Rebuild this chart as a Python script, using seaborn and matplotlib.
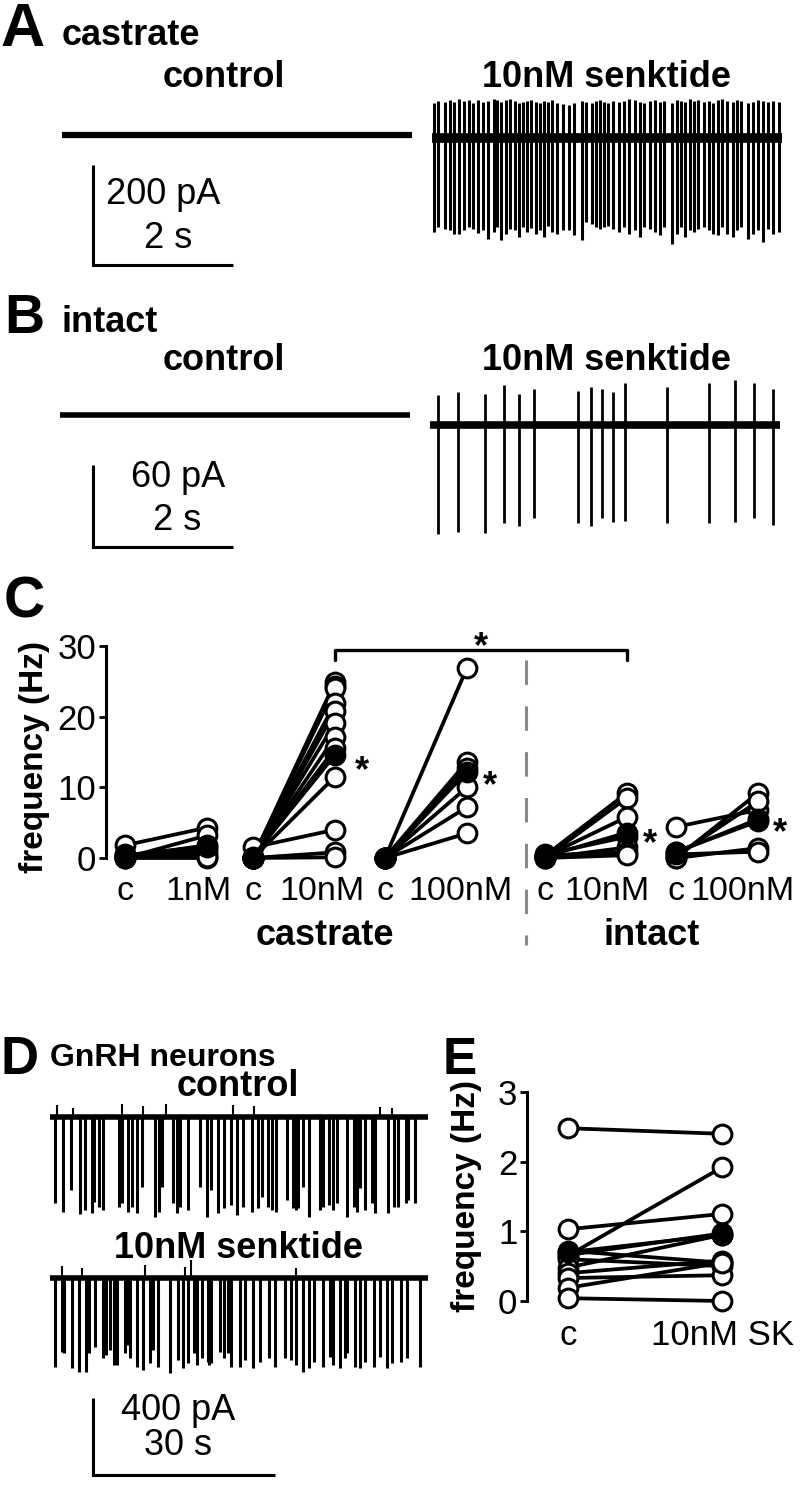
import numpy as np
import pandas as pd
import seaborn as sns
import matplotlib.pyplot as plt

W, H = 800, 1487

# ---------------- panel A: castrate, 5 s sweeps (time s, current pA)
a_dur = 5.0
a_spk_t = [0.03, 0.09, 0.19, 0.26, 0.32, 0.39, 0.46, 0.53, 0.59, 0.66,
           0.73, 0.80, 0.88, 0.93, 0.99, 1.06, 1.11, 1.18, 1.24, 1.30,
           1.36, 1.42, 1.49, 1.54, 1.60, 1.66, 1.72, 1.78, 1.87, 1.95,
           2.03, 2.14, 2.20, 2.28, 2.34, 2.40, 2.46, 2.52, 2.58, 2.67,
           2.74, 2.82, 2.90, 2.97, 3.03, 3.11, 3.19, 3.25, 3.32, 3.43,
           3.50, 3.55, 3.61, 3.69, 3.74, 3.80, 3.88, 3.95, 4.02, 4.08,
           4.14, 4.21, 4.30, 4.35, 4.42, 4.51, 4.58, 4.65, 4.73, 4.80,
           4.87, 4.95]
a_spk_down = [187, 177, 181, 184, 191, 192, 183, 177, 181, 189,
              184, 201, 187, 177, 203, 191, 181, 183, 197, 177,
              187, 179, 192, 183, 197, 176, 187, 191, 184, 184,
              194, 204, 167, 171, 177, 181, 177, 176, 181, 187,
              177, 191, 184, 197, 177, 181, 187, 194, 177, 211,
              191, 177, 197, 184, 187, 181, 177, 184, 191, 194,
              177, 191, 197, 184, 177, 201, 191, 184, 207, 181,
              191, 187]
a_spk_up = [70, 74, 72, 76, 72, 78, 74, 76, 70, 76,
            72, 74, 78, 76, 72, 76, 78, 74, 70, 72,
            74, 76, 72, 70, 74, 72, 76, 70, 68, 66,
            70, 74, 72, 70, 74, 76, 72, 70, 74, 72,
            74, 78, 76, 72, 70, 74, 76, 72, 74, 70,
            76, 74, 72, 78, 74, 76, 72, 74, 70, 76,
            78, 74, 72, 76, 74, 70, 72, 76, 74, 72,
            74, 72]

# ---------------- panel B: intact
b_dur = 5.0
b_spk_t = [0.12, 0.40, 0.79, 1.05, 1.27, 1.49, 2.11, 2.30, 2.46, 2.62,
           2.79, 3.39, 3.99, 4.35, 4.63, 4.90]
b_spk_down = [80, 78, 79, 72, 74, 68, 72, 74, 68, 71, 70, 72, 72, 71, 68, 73]
b_spk_up = [22, 24, 23, 29, 23, 26, 25, 28, 26, 24, 31, 28, 31, 33, 31, 26]

# ---------------- panel D: GnRH neurons, ~62 s sweeps
d_dur = 62.3
d_ctl_t = [0.8, 2.1, 3.4, 4.9, 5.8, 6.9, 7.3, 8.1, 8.7, 11.3,
           11.8, 12.9, 13.5, 14.4, 15.1, 17.3, 18.0, 18.4, 20.2, 20.9,
           21.4, 22.8, 24.7, 25.8, 26.5, 27.7, 28.7, 29.9, 30.8, 31.8,
           33.2, 34.2, 35.0, 35.9, 36.6, 37.3, 39.0, 40.1, 40.5, 40.9,
           41.6, 42.6, 44.4, 44.9, 45.9, 46.7, 47.2, 48.9, 50.0, 50.5,
           51.1, 51.9, 53.0, 53.5, 55.7, 56.7, 57.4, 58.6, 59.0, 60.1]
d_ctl_amp = [449, 492, 380, 504, 484, 498, 440, 466, 484, 466,
             449, 492, 466, 501, 362, 518, 492, 362, 449, 501,
             466, 484, 362, 518, 380, 501, 475, 458, 510, 466,
             492, 475, 414, 466, 484, 492, 432, 475, 484, 475,
             362, 518, 484, 466, 458, 484, 449, 518, 466, 492,
             371, 484, 449, 501, 501, 466, 466, 449, 432, 449]
d_ctl_blip_t = [1.1, 3.8, 11.8, 15.4, 19.1, 30.1, 33.6, 54.4, 56.3]
d_ctl_blip = [60, 45, 70, 55, 65, 60, 55, 50, 45]
d_sk_t = [0.8, 1.9, 2.3, 3.6, 4.8, 6.0, 6.5, 7.4, 8.7, 9.3,
          9.9, 10.5, 11.1, 12.4, 12.7, 13.2, 14.3, 15.4, 16.5, 16.9,
          17.8, 19.7, 21.1, 21.9, 22.8, 23.7, 24.2, 25.0, 26.0, 26.2,
          26.5, 28.0, 28.7, 29.4, 29.9, 31.3, 32.1, 33.4, 34.6, 36.1,
          37.1, 38.7, 39.7, 40.6, 41.7, 42.6, 43.5, 45.0, 46.1, 46.7,
          47.8, 48.6, 48.9, 50.2, 51.1, 51.9, 53.3, 54.4, 55.5, 56.3,
          57.8, 58.8, 61.0]
d_sk_amp = [461, 383, 392, 470, 487, 487, 392, 357, 418, 400,
            374, 452, 452, 392, 348, 418, 461, 478, 444, 374,
            461, 496, 426, 470, 444, 392, 452, 418, 435, 452,
            444, 383, 418, 392, 461, 461, 426, 470, 435, 418,
            461, 418, 426, 452, 487, 470, 435, 461, 409, 452,
            470, 418, 392, 461, 470, 435, 461, 409, 470, 444,
            435, 418, 461]
d_sk_blip_t = [1.9, 5.2, 15.6, 22.2, 23.3, 40.6]
d_sk_blip = [60, 50, 70, 55, 95, 50]

# ---------------- panel C: firing frequency (Hz), paired cells
c_ctrl = [[1.8, 0.0, 0.2, 0.0, 0.5, 0.0, 0.3],
          [0.0, 0.0, 0.0, 0.0, 0.0, 0.0, 0.0, 0.0, 0.0, 1.5, 0.0, 0.0],
          [0.0, 0.0, 0.0, 0.0, 0.0, 0.0],
          [0.3, 0.0, 0.2, 0.5, 0.0, 0.4, 0.0],
          [4.4, 0.0, 0.3, 0.8, 0.0, 0.5]]
c_drug = [[4.3, 3.2, 1.8, 1.2, 0.6, 0.0, 0.2],
          [24.9, 24.4, 24.0, 21.9, 20.8, 19.1, 17.1, 15.5, 11.5, 4.0, 0.8, 0.1],
          [26.9, 13.6, 12.8, 10.0, 7.2, 3.5],
          [9.2, 8.5, 5.8, 3.0, 1.5, 0.8, 0.4],
          [6.8, 9.2, 8.0, 5.5, 1.4, 0.9]]
c_mean_ctrl = [0.4, 0.2, 0.0, 0.2, 0.9]
c_mean_drug = [1.6, 14.6, 12.2, 3.6, 5.2]
c_ctrl_labels = ['c', 'c', 'c', 'c', 'c']
c_drug_labels = ['1nM', '10nM', '100nM', '10nM', '100nM']
c_groups = ['castrate', 'intact']

# ---------------- panel E: GnRH neurons frequency (Hz)
e_ctrl = [2.48, 1.03, 0.65, 0.72, 0.66, 0.60, 0.48, 0.40, 0.33, 0.19, 0.04]
e_sk = [2.40, 1.25, 1.92, 0.55, 0.97, 0.50, 0.95, 0.58, 0.37, 0.55, 0.0]
e_mean = [0.70, 0.95]
e_labels = ['c', '10nM SK']

# ---------------- style
sns.set_style('ticks')
plt.rcParams['font.family'] = ['Liberation Sans', 'DejaVu Sans']
for k in ['text.color', 'axes.labelcolor', 'xtick.color', 'ytick.color', 'axes.edgecolor']:
    plt.rcParams[k] = 'black'

fig = plt.figure(figsize=(W / 100, H / 100), dpi=100)


def px_axes(x0, x1, y0, y1):
    return fig.add_axes([x0 / W, 1 - y1 / H, (x1 - x0) / W, (y1 - y0) / H])


def trace_axes(x0, y0, y1, base, px_s, px_pA, dur):
    ax = px_axes(x0, x0 + dur * px_s, y0, y1)
    ax.set_xlim(0, dur)
    ax.set_ylim(-(y1 - base) / px_pA, (base - y0) / px_pA)
    ax.axis('off')
    return ax


def to_data(ax, px, py):
    return ax.transData.inverted().transform((px, H - py))


def draw_trace(ax, dur, lw_base, t=None, down=None, up=None, lw_spk=2.0):
    ax.plot([0, dur], [0, 0], color='black', lw=lw_base, solid_capstyle='butt')
    if t is not None:
        hi = np.asarray(up) if up is not None else np.zeros(len(t))
        ax.vlines(t, -np.asarray(down), hi, color='black', lw=lw_spk)


def scale_bar(ax, px, py, t_len, pA_len):
    t0, y0 = to_data(ax, px, py)
    ax.plot([t0, t0, t0 + t_len], [y0 + pA_len, y0, y0], color='black',
            lw=2.2, clip_on=False, solid_joinstyle='miter', solid_capstyle='butt')


def ftext(px, py, s, size=26, weight='bold', ha='center', va='baseline', **kw):
    fig.text(px / W, 1 - py / H, s, fontsize=size, fontweight=weight, ha=ha, va=va, **kw)


# ---------------- A
ax = trace_axes(62, 90, 280, 135, 70, 0.5, a_dur)
draw_trace(ax, a_dur, 4.5)
scale_bar(ax, 93, 265, 2, 200)
ax = trace_axes(432, 90, 280, 138, 70, 0.5, a_dur)
draw_trace(ax, a_dur, 7, a_spk_t, a_spk_down, a_spk_up, lw_spk=2.2)
ftext(0, 46, 'A', size=44, ha='left')
ftext(62, 45, 'castrate', ha='left')
ftext(224, 87, 'control')
ftext(607, 87, '10nM senktide')
ftext(163, 204, '200 pA', weight='normal')
ftext(168, 248, '2 s', weight='normal')

# ---------------- B
ax = trace_axes(60, 370, 560, 415, 70, 1.367, b_dur)
draw_trace(ax, b_dur, 4)
scale_bar(ax, 93, 547, 2, 60)
ax = trace_axes(430, 370, 560, 425, 70, 1.367, b_dur)
draw_trace(ax, b_dur, 5.5, b_spk_t, b_spk_down, b_spk_up, lw_spk=2.0)
ftext(4, 333, 'B', size=40, ha='left')
ftext(62, 332, 'intact', ha='left')
ftext(224, 370, 'control')
ftext(607, 370, '10nM senktide')
ftext(178, 487, '60 pA', weight='normal')
ftext(177, 530, '2 s', weight='normal')

# ---------------- C
ax_c = px_axes(106, 790, 646, 858)
c_pos = [0.0, 1.56, 3.17, 5.12, 6.72]
c_lab_pos = [0.90, 2.40, 4.09, 5.88, 7.53]
rows, mrows = [], []
for g in range(len(c_pos)):
    for i, (v0, v1) in enumerate(zip(c_ctrl[g], c_drug[g])):
        rows.append((c_pos[g], v0, f'{g}-{i}'))
        rows.append((c_pos[g] + 1, v1, f'{g}-{i}'))
    mrows.append((c_pos[g], c_mean_ctrl[g], g))
    mrows.append((c_pos[g] + 1, c_mean_drug[g], g))
df_c = pd.DataFrame(rows, columns=['pos', 'freq', 'cell'])
df_cm = pd.DataFrame(mrows, columns=['pos', 'freq', 'grp'])
pt_kw = dict(estimator=None, sort=False, color='black', linewidth=2.7, marker='o',
             markersize=13.5, markeredgecolor='black', markeredgewidth=2.2,
             clip_on=False, legend=False)
sns.lineplot(data=df_c, x='pos', y='freq', units='cell', markerfacecolor='white', ax=ax_c, **pt_kw)
sns.lineplot(data=df_cm, x='pos', y='freq', units='grp', markerfacecolor='black', ax=ax_c, **pt_kw)
ax_c.set(xlabel='', ylabel='', xlim=(-0.232, 8.11), ylim=(0, 30))
ax_c.set_yticks([0, 10, 20, 30])
ax_c.set_xticks(c_pos + c_lab_pos)
ax_c.set_xticklabels(c_ctrl_labels + c_drug_labels)
sns.despine(ax=ax_c, bottom=True)
ax_c.spines['left'].set_linewidth(2.2)
ax_c.tick_params(axis='y', length=5, width=2, labelsize=25, pad=2)
ax_c.tick_params(axis='x', length=0, labelsize=24.5, pad=13)
# bracket between castrate 10nM and intact 10nM
x_a, x_b = c_pos[1] + 1, c_pos[3] + 1
ax_c.plot([x_a, x_a, x_b, x_b], [28.0, 29.4, 29.4, 28.0], color='black', lw=2.4, clip_on=False)
ax_c.plot([4.89, 4.89], [28.0, -12.3], color='#888888', lw=2.2, dashes=(8, 7), clip_on=False)
ftext(481, 657, '*')
ftext(362, 781, '*')
ftext(490, 796, '*')
ftext(650, 854, '*')
ftext(780, 843, '*')
ftext(325, 945, c_groups[0])
ftext(652, 945, c_groups[1])
ftext(35, 757, 'frequency (Hz)', size=24, rotation=90, va='center')
ftext(4, 618, 'C', size=41, ha='left')

# ---------------- D
ax = trace_axes(50, 1100, 1485, 1117, 6.07, 0.1925, d_dur)
draw_trace(ax, d_dur, 4, d_ctl_t, d_ctl_amp, lw_spk=2.2)
ax.vlines(d_ctl_blip_t, 0, d_ctl_blip, color='black', lw=1.5)
scale_bar(ax, 93, 1475, 30, 400)
ax = trace_axes(50, 1100, 1485, 1278, 6.07, 0.1925, d_dur)
draw_trace(ax, d_dur, 4, d_sk_t, d_sk_amp, lw_spk=2.2)
ax.vlines(d_sk_blip_t, 0, d_sk_blip, color='black', lw=1.5)
ftext(1, 1074, 'D', size=38, ha='left')
ftext(50, 1066, 'GnRH neurons', size=23, ha='left')
ftext(238, 1096, 'control')
ftext(238, 1258, '10nM senktide')
ftext(178, 1420, '400 pA', weight='normal')
ftext(178, 1455, '30 s', weight='normal')

# ---------------- E
ax_e = px_axes(527, 790, 1092, 1301)
rows = []
for i, (v0, v1) in enumerate(zip(e_ctrl, e_sk)):
    rows.append((0, v0, i))
    rows.append((1, v1, i))
df_e = pd.DataFrame(rows, columns=['pos', 'freq', 'cell'])
df_em = pd.DataFrame({'pos': [0, 1], 'freq': e_mean, 'grp': [0, 0]})
sns.lineplot(data=df_e, x='pos', y='freq', units='cell', markerfacecolor='white', ax=ax_e, **pt_kw)
sns.lineplot(data=df_em, x='pos', y='freq', units='grp', markerfacecolor='black', ax=ax_e, **pt_kw)
ax_e.set(xlabel='', ylabel='', xlim=(-0.266, 1.44), ylim=(0, 3))
ax_e.set_yticks([0, 1, 2, 3])
ax_e.set_xticks([0, 1])
ax_e.set_xticklabels(e_labels)
sns.despine(ax=ax_e, bottom=True)
ax_e.spines['left'].set_linewidth(2.2)
ax_e.tick_params(axis='y', length=5, width=2, labelsize=25, pad=2)
ax_e.tick_params(axis='x', length=0, labelsize=25, pad=13)
ftext(443, 1074, 'E', size=37, ha='left')
ftext(466, 1196, 'frequency (Hz)', size=24, rotation=90, va='center')

fig.savefig('out.png', dpi=100)
